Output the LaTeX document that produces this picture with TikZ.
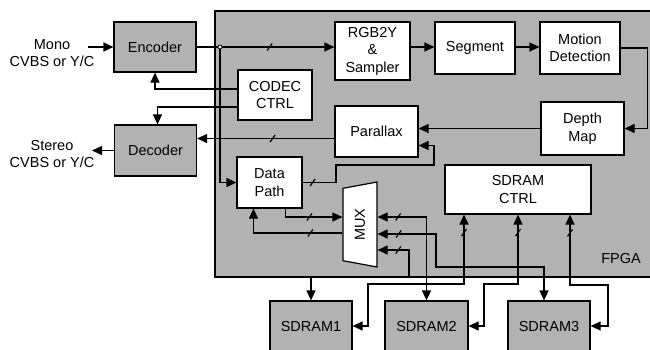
\documentclass[tikz,border=0pt]{standalone}
\usepackage{fontspec}
\setmainfont{Liberation Sans}
\usetikzlibrary{arrows.meta,shapes.geometric}
\definecolor{boxgray}{RGB}{178,178,178}

\begin{document}
\begin{tikzpicture}[x=1pt,y=-1pt,line width=1.2pt,
    font=\fontsize{14.5}{17.5}\selectfont,
    blk/.style={draw,fill=white,align=center,inner sep=0pt},
    ext/.style={blk,fill=boxgray},
    arr/.style={-{Triangle[length=10pt,width=9pt]}},
    biarr/.style={{Triangle[length=10pt,width=9pt]}-{Triangle[length=10pt,width=9pt]}},
    bus/.pic={\draw[-] (-2.5pt,-3.5pt) -- (2.5pt,3.5pt);}]
    \useasboundingbox (0,0) rectangle (650,349);
    %\draw[help lines,step=50] (0,0) grid (650,349);
        \node[draw,fill=boxgray,minimum width=437pt,minimum height=266pt] (fpga) at (433.5,144) {};
        \node (fpgalabel) at (621,259) {FPGA};
        \node[align=center] (mono) at (52,53) {Mono\\CVBS or Y/C};
        \node[align=center] (stereo) at (52,154) {Stereo\\CVBS or Y/C};
        \coordinate (monoin) at (88,47);
        \coordinate (stereoout) at (92,150);
        \coordinate (split) at (220,47);
        \node[ext,minimum width=82pt,minimum height=50pt] (enc) at (155,47) {Encoder};
        \node[ext,minimum width=82pt,minimum height=51pt] (dec) at (155.5,150.5) {Decoder};
        \node[blk,minimum width=74pt,minimum height=50pt] (codec) at (275,95) {CODEC\\CTRL};
        \node[blk,minimum width=75pt,minimum height=58pt] (rgb) at (372.5,51) {RGB2Y\\\&\\Sampler};
        \node[blk,minimum width=80pt,minimum height=52pt] (seg) at (475,48) {Segment};
        \node[blk,minimum width=80pt,minimum height=52pt] (motion) at (580,48) {Motion\\Detection};
        \node[blk,minimum width=83pt,minimum height=53pt] (depth) at (582.5,128.5) {Depth\\Map};
        \node[blk,minimum width=83pt,minimum height=51pt] (parallax) at (376.5,131.5) {Parallax};
        \node[blk,minimum width=65pt,minimum height=51pt] (dp) at (269.5,182.5) {Data\\Path};
        \node[blk,minimum width=146pt,minimum height=49pt] (sdctrl) at (518,189.5) {SDRAM\\CTRL};
        \node[trapezium,draw,fill=white,rotate=90,trapezium angle=58,trapezium stretches body,
            minimum width=85pt,minimum height=34pt,inner sep=0pt] (mux) at (360,224.5) {MUX};
        \node[ext,minimum width=82pt,minimum height=50pt] (sd1) at (311,326) {SDRAM1};
        \node[ext,minimum width=83pt,minimum height=50pt] (sd2) at (426.5,326) {SDRAM2};
        \node[ext,minimum width=82pt,minimum height=50pt] (sd3) at (549,326) {SDRAM3};

        \draw[arr] (monoin) -- (monoin -| enc.west);
        \draw[arr] (dec.west) -- (dec.west -| stereoout);
        \draw[arr] (enc.east) -- pic[pos=.53]{bus} (enc.east -| rgb.west);
        \draw[arr] (split) |- (dp.west);
        \draw[arr] ([yshift=6pt]codec.west) -| (enc.south);
        \draw[arr] ([yshift=-12pt]codec.west) -| ([xshift=2pt]dec.north);
        \draw[arr] (rgb.east |- enc) -- (seg.west |- enc);
        \draw[arr] (seg.east |- enc) -- (motion.west |- enc);
        \draw[arr] (motion.east) -- ++(27,0) |- (depth.east);
        \draw[arr] (depth.west) -- (depth.west -| parallax.east);
        \draw[arr] ([yshift=-7pt]parallax.west) -- pic[pos=.45]{bus} ([yshift=-7pt]parallax.west -| dec.east);
        \draw[arr] (dp.east) -- pic[pos=.3]{bus} (336,182.5) |- (434,165) |- ([yshift=-14pt]parallax.east);
        \draw[arr] ([xshift=16pt]dp.south) |- pic[pos=.71]{bus} ([yshift=7.5pt]mux.north);
        \draw[arr] ([yshift=-8.5pt]mux.north) -| pic[pos=.18]{bus} ([xshift=-16pt]dp.south);
        \draw[biarr] ([yshift=7.5pt]mux.south) -| pic[pos=.21]{bus} (sd2.north);
        \draw[biarr] ([yshift=-9.5pt]mux.south) -| pic[pos=.18]{bus} (436,267) -| ([xshift=-5pt]sd3.north);
        \draw[biarr] ([yshift=-25.5pt]mux.south) -| pic[pos=.33]{bus} (409,277) -| (sd1.north);
        \draw[biarr] ([xshift=-54pt]sdctrl.south) |- pic[pos=.13]{bus} (368,284) |- (sd1.east);
        \draw[biarr] (sdctrl.south) |- pic[pos=.13]{bus} (484,284) |- (sd2.east);
        \draw[biarr] ([xshift=52pt]sdctrl.south) |- pic[pos=.13]{bus} (608,285) |- (sd3.east);
        \node[circle,draw,fill=white,inner sep=0pt,minimum size=4pt,line width=.8pt] (dot) at (split) {};
\end{tikzpicture}
\end{document}
